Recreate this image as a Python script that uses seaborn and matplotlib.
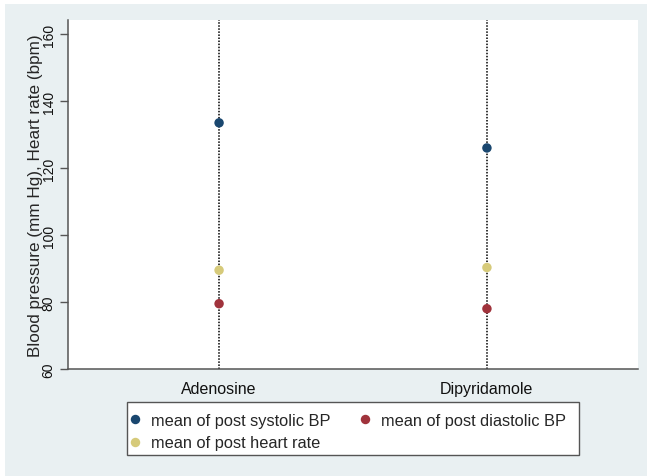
import matplotlib
matplotlib.use("Agg")
import matplotlib.pyplot as plt
import seaborn as sns
import pandas as pd
from matplotlib.patches import Rectangle
from matplotlib.lines import Line2D

# Data
drugs = ["Adenosine", "Dipyridamole"]
systolic = [133.5, 126.0]
diastolic = [79.5, 78.0]
heart_rate = [89.5, 90.3]
series_labels = ["mean of post systolic BP", "mean of post diastolic BP", "mean of post heart rate"]
series_colors = ["#1a476f", "#a0333c", "#d6ca7a"]
yticks = [60, 80, 100, 120, 140, 160]

rows = []
for lab, vals in zip(series_labels, [systolic, diastolic, heart_rate]):
    for d, v in zip(drugs, vals):
        rows.append({"drug": d, "measure": lab, "value": v})
df = pd.DataFrame(rows)

sns.set_style("white")
plt.rcParams["font.family"] = ["Liberation Sans", "DejaVu Sans"]

W, H = 647, 477
bg = "#e9f0f2"
fig = plt.figure(figsize=(W/100, H/100), dpi=100, facecolor="white")
fig.patches.append(Rectangle((5/W, 0), 1 - 5/W, 1 - 5/H, transform=fig.transFigure,
                             facecolor=bg, edgecolor="none", zorder=-10))
ax = fig.add_axes([68/W, 1 - 370/H, (638-68)/W, (370-21)/H])
ax.set_facecolor("white")

for i, d in enumerate(drugs):
    ax.axvline(i, color="black", linestyle=(0, (1, 1)), linewidth=1.1, zorder=1)

sns.stripplot(data=df, x="drug", y="value", hue="measure", order=drugs,
              hue_order=series_labels, palette=series_colors, jitter=False,
              dodge=False, size=6.8, linewidth=0, ax=ax, zorder=3, legend=False)

ax.set_xlim(-0.564, 1.564)
ax.set_ylim(60, 164.2)
ax.set_yticks(yticks)
ax.set_yticklabels([str(t) for t in yticks], rotation=90, va="center", fontsize=10)
ax.set_xlabel("")
ax.set_ylabel("Blood pressure (mm Hg), Heart rate (bpm)", fontsize=12.3, labelpad=-1)
ax.tick_params(axis="x", length=0, pad=9, labelsize=11.5, colors="#111111")
ax.tick_params(axis="y", length=6, width=1, color="#555555", pad=3, left=True)
for lbl in ax.get_yticklabels():
    lbl.set_color("#111111")
for s in ["top", "right"]:
    ax.spines[s].set_visible(False)
for s in ["left", "bottom"]:
    ax.spines[s].set_color("#555555")
    ax.spines[s].set_linewidth(1.1)

# Legend frame
fig.patches.append(Rectangle((127/W, 1 - 456/H), 452/W, 53/H, transform=fig.transFigure,
                             facecolor="white", edgecolor="#555555", linewidth=1.0, zorder=-5))
order = [0, 2, 1]
handles = [Line2D([], [], marker="o", linestyle="none", markersize=6.8,
                  markerfacecolor=series_colors[k], markeredgewidth=0) for k in order]
labels = [series_labels[k] for k in order]
leg = fig.legend(handles, labels, ncol=2, loc="center left",
                 bbox_to_anchor=(127.6/W, 1 - 432.5/H),
                 borderaxespad=0, fontsize=11.8, frameon=False,
                 handlelength=0.9, handletextpad=0.55, labelspacing=0.47,
                 borderpad=0, columnspacing=1.62)

fig.savefig("out.png", dpi=100, facecolor=fig.get_facecolor())
